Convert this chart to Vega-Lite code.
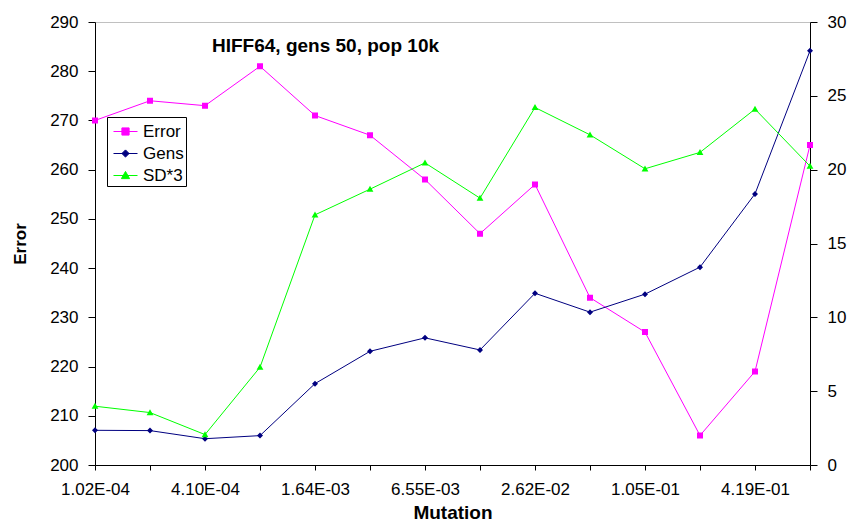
{
  "$schema": "https://vega.github.io/schema/vega-lite/v6.json",
  "width": 715,
  "height": 443,
  "autosize": "none",
  "padding": {"left": 95, "top": 22, "right": 45, "bottom": 59},
  "background": "white",
  "config": {
    "view": {"stroke": null},
    "font": "Liberation Sans",
    "axis": {
      "domainColor": "black",
      "domainWidth": 1,
      "tickColor": "black",
      "labelColor": "black",
      "labelFont": "Liberation Sans",
      "labelFontSize": 17,
      "titleColor": "black",
      "titleFont": "Liberation Sans",
      "titleFontWeight": "bold",
      "grid": false
    },
    "legend": {
      "orient": "none",
      "legendX": 12,
      "legendY": 95,
      "fillColor": "white",
      "strokeColor": "black",
      "padding": 2,
      "symbolSize": 576,
      "symbolOffset": 4,
      "labelOffset": 5,
      "rowPadding": 1,
      "labelFont": "Liberation Sans",
      "labelFontSize": 17,
      "labelColor": "black",
      "title": null
    }
  },
  "data": {
    "values": [
      {"m": "1.02E-04", "s": "Error", "v": 270},
      {"m": "2.05E-04", "s": "Error", "v": 274},
      {"m": "4.10E-04", "s": "Error", "v": 273},
      {"m": "8.19E-04", "s": "Error", "v": 281},
      {"m": "1.64E-03", "s": "Error", "v": 271},
      {"m": "3.28E-03", "s": "Error", "v": 267},
      {"m": "6.55E-03", "s": "Error", "v": 258},
      {"m": "1.31E-02", "s": "Error", "v": 247},
      {"m": "2.62E-02", "s": "Error", "v": 257},
      {"m": "5.24E-02", "s": "Error", "v": 234},
      {"m": "1.05E-01", "s": "Error", "v": 227},
      {"m": "2.10E-01", "s": "Error", "v": 206},
      {"m": "4.19E-01", "s": "Error", "v": 219},
      {"m": "8.39E-01", "s": "Error", "v": 265},
      {"m": "1.02E-04", "s": "Gens", "v": 2.35},
      {"m": "2.05E-04", "s": "Gens", "v": 2.33},
      {"m": "4.10E-04", "s": "Gens", "v": 1.78},
      {"m": "8.19E-04", "s": "Gens", "v": 1.99},
      {"m": "1.64E-03", "s": "Gens", "v": 5.51},
      {"m": "3.28E-03", "s": "Gens", "v": 7.70},
      {"m": "6.55E-03", "s": "Gens", "v": 8.61},
      {"m": "1.31E-02", "s": "Gens", "v": 7.79},
      {"m": "2.62E-02", "s": "Gens", "v": 11.63},
      {"m": "5.24E-02", "s": "Gens", "v": 10.35},
      {"m": "1.05E-01", "s": "Gens", "v": 11.57},
      {"m": "2.10E-01", "s": "Gens", "v": 13.40},
      {"m": "4.19E-01", "s": "Gens", "v": 18.36},
      {"m": "8.39E-01", "s": "Gens", "v": 28.05},
      {"m": "1.02E-04", "s": "SD*3", "v": 3.98},
      {"m": "2.05E-04", "s": "SD*3", "v": 3.55},
      {"m": "4.10E-04", "s": "SD*3", "v": 2.06},
      {"m": "8.19E-04", "s": "SD*3", "v": 6.62},
      {"m": "1.64E-03", "s": "SD*3", "v": 16.94},
      {"m": "3.28E-03", "s": "SD*3", "v": 18.68},
      {"m": "6.55E-03", "s": "SD*3", "v": 20.46},
      {"m": "1.31E-02", "s": "SD*3", "v": 18.07},
      {"m": "2.62E-02", "s": "SD*3", "v": 24.21},
      {"m": "5.24E-02", "s": "SD*3", "v": 22.36},
      {"m": "1.05E-01", "s": "SD*3", "v": 20.06},
      {"m": "2.10E-01", "s": "SD*3", "v": 21.17},
      {"m": "4.19E-01", "s": "SD*3", "v": 24.10},
      {"m": "8.39E-01", "s": "SD*3", "v": 20.24}
    ]
  },
  "encoding": {
    "x": {
      "field": "m",
      "type": "ordinal",
      "sort": null,
      "scale": {"type": "point", "padding": 0},
      "axis": {
        "title": "Mutation",
        "titleFontSize": 19,
        "titleBaseline": "alphabetic",
        "titleY": 53,
        "labelAngle": 0,
        "labelOverlap": false,
        "labelPadding": 11,
        "tickSize": 5,
        "labelExpr": "indexof(['1.02E-04','4.10E-04','1.64E-03','6.55E-03','2.62E-02','1.05E-01','4.19E-01'], datum.value) >= 0 ? datum.label : ''"
      }
    },
    "color": {
      "field": "s",
      "type": "nominal",
      "scale": {"domain": ["Error", "Gens", "SD*3"], "range": ["#FF00FF", "#000080", "#00FF00"]},
      "legend": {
        "labelExpr": "datum.label + '    '",
        "encode": {
          "symbols": {
            "update": {
              "stroke": {"scale": "color", "field": "value"},
              "strokeWidth": {"value": 1},
              "fill": {"scale": "color", "field": "value"},
              "shape": {"scale": "shape", "field": "value"},
              "opacity": {"value": 1}
            }
          }
        }
      }
    }
  },
  "layer": [
    {
      "encoding": {
        "y": {
          "field": "v",
          "type": "quantitative",
          "scale": {"domain": [200, 290], "nice": false, "zero": false},
          "axis": {
            "title": "Error",
            "titleFontSize": 17,
            "titleX": -66,
            "values": [200, 210, 220, 230, 240, 250, 260, 270, 280, 290],
            "tickSize": 7,
            "labelPadding": 10,
            "grid": true,
            "gridColor": "#c0c0c0",
            "gridOpacity": {"condition": {"test": "datum.value === 290", "value": 1}, "value": 0}
          }
        }
      },
      "layer": [
        {
          "transform": [{"filter": "datum.s === 'Error'"}],
          "mark": {"type": "line", "strokeWidth": 1}
        },
        {
          "transform": [{"filter": "datum.s === 'Error'"}],
          "mark": {"type": "point", "filled": true, "size": 400, "opacity": 1},
          "encoding": {
            "shape": {
              "field": "s",
              "type": "nominal",
              "scale": {
                "domain": ["Error", "Gens", "SD*3"],
                "range": [
                  "M-1,0H1M-0.3,-0.3H0.3V0.3H-0.3Z",
                  "M-1,0H1M0,-0.3L0.3,0L0,0.3L-0.3,0Z",
                  "M-1,0H1M0,-0.34L0.34,0.26H-0.34Z"
                ]
              }
            }
          }
        },
        {
          "data": {"values": [{"t": "HIFF64, gens 50, pop 10k", "m": "4.10E-04", "v": 284}]},
          "mark": {
            "type": "text",
            "align": "left",
            "baseline": "alphabetic",
            "dx": 7,
            "font": "Liberation Sans",
            "fontSize": 19,
            "fontWeight": "bold",
            "fill": "black"
          },
          "encoding": {
            "text": {"field": "t"},
            "color": {"value": "black"}
          }
        }
      ]
    },
    {
      "transform": [{"filter": "datum.s !== 'Error'"}],
      "encoding": {
        "y": {
          "field": "v",
          "type": "quantitative",
          "scale": {"domain": [0, 30], "nice": false},
          "axis": {
            "orient": "right",
            "title": null,
            "values": [0, 5, 10, 15, 20, 25, 30],
            "tickSize": 7,
            "labelPadding": 10
          }
        }
      },
      "layer": [
        {"mark": {"type": "line", "strokeWidth": 1}},
        {
          "mark": {"type": "point", "filled": true, "size": 400, "opacity": 1},
          "encoding": {
            "shape": {"field": "s", "type": "nominal"}
          }
        }
      ]
    }
  ],
  "resolve": {"scale": {"y": "independent"}, "axis": {"y": "independent"}}
}
